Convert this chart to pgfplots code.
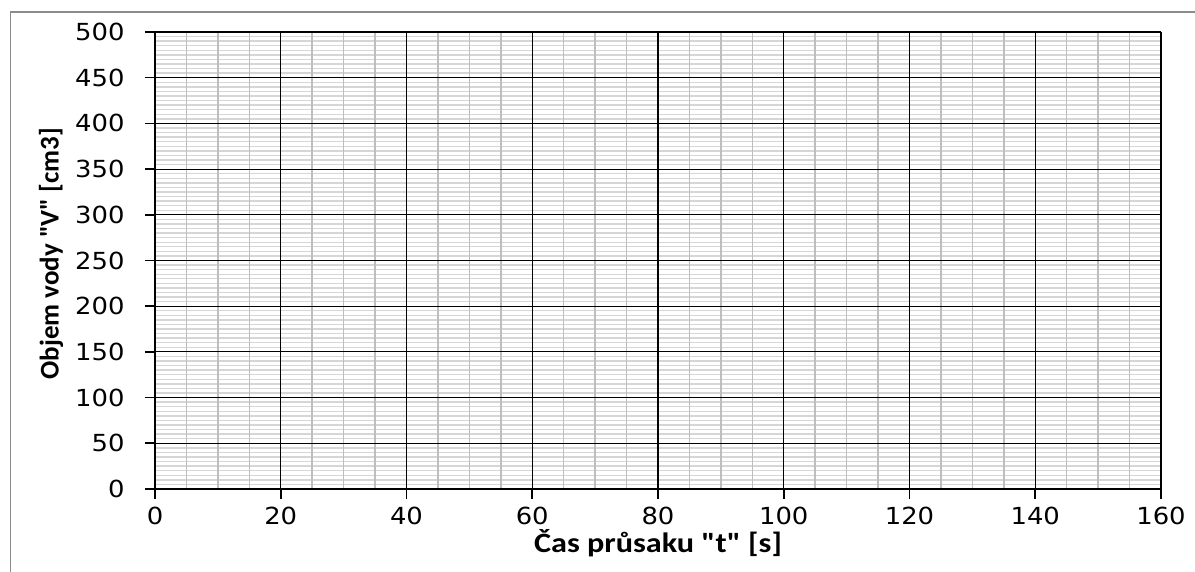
\documentclass[border=0pt]{standalone}
\usepackage{fontspec}
\setmainfont{DejaVu Sans}[FakeStretch=1.1]
\newfontfamily\labelfont{Carlito}
\newfontfamily\widelabelfont{Carlito}[FakeStretch=1.15]
\usepackage{pgfplots}
\pgfplotsset{compat=1.18}
\definecolor{framegray}{RGB}{140,140,140}
\definecolor{minorh}{RGB}{214,214,214}
\definecolor{minorv}{RGB}{190,190,190}
\pgfplotsset{
  chartbox/.style={
    at={(155pt,83pt)}, anchor=south west,
    scale only axis, width=1006pt, height=457pt,
    xmin=0, xmax=160, ymin=0, ymax=500,
    xtick distance=20, ytick distance=50,
    minor x tick num=3, minor y tick num=9,
  },
}
\begin{document}
\begin{tikzpicture}[x=1pt,y=1pt]
\path[use as bounding box] (0,0) rectangle (1195,572);
\draw[framegray, line width=1.2pt] (10.5,0) -- (10.5,560) -- (1195,560);
% horizontal minor lines underneath
\begin{axis}[
  chartbox,
  axis line style={draw=none},
  xticklabels={}, yticklabels={},
  tick style={draw=none},
  yminorgrids=true,
  minor y grid style={minorh, line width=1.4pt},
]
\end{axis}
% vertical minor lines, major grid, axes, ticks and labels on top
\begin{axis}[
  chartbox,
  xminorgrids=true, xmajorgrids=true, ymajorgrids=true,
  major grid style={black, line width=1.1pt},
  minor x grid style={minorv, line width=1.6pt},
  axis x line*=bottom, axis y line*=left,
  axis line style={black, line width=2.2pt},
  tick align=outside,
  major tick length=10pt, minor tick length=0pt,
  tick style={black, line width=1.6pt},
  /pgf/number format/assume math mode=true,
  ticklabel style={font=\fontsize{23.5}{27}\selectfont},
  yticklabel style={xshift=-17pt},
  xticklabel style={yshift=-5pt},
  xlabel={Čas průsaku "t" [s]},
  ylabel={Objem vody "V" [cm3]},
  xlabel style={font=\widelabelfont\bfseries\fontsize{28}{32}\selectfont,
    at={(axis description cs:0.5,-0.118)}, anchor=center},
  ylabel style={font=\labelfont\bfseries\fontsize{27}{31}\selectfont,
    at={(axis description cs:-0.1034,0.515)}, anchor=center},
]
\end{axis}
\end{tikzpicture}
\end{document}
